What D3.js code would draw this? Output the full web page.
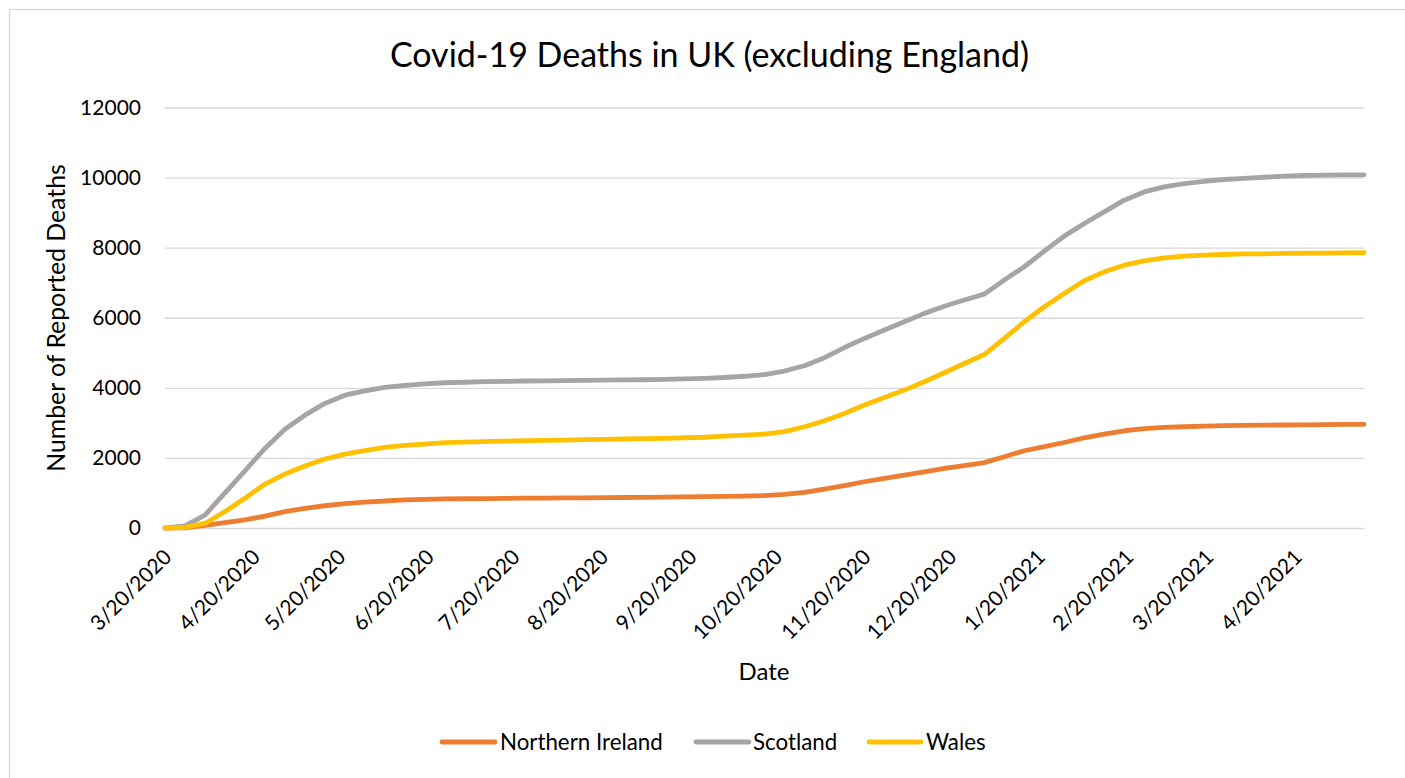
<!DOCTYPE html>
<html>
<head>
<meta charset="utf-8">
<script src="https://cdn.jsdelivr.net/npm/d3@7/dist/d3.min.js"></script>
<style>
  html, body { margin: 0; padding: 0; background: #ffffff; }
  svg { display: block; font-family: Lato, "Open Sans", sans-serif; }
</style>
</head>
<body>
<svg id="chart" width="1405" height="778"></svg>
<script>
// Weekly reporting dates (cumulative totals)
const dates = [
  "2020-03-20","2020-03-27","2020-04-03","2020-04-10","2020-04-17","2020-04-24","2020-05-01","2020-05-08",
  "2020-05-15","2020-05-22","2020-05-29","2020-06-05","2020-06-12","2020-06-19","2020-06-26","2020-07-03",
  "2020-07-10","2020-07-17","2020-07-24","2020-07-31","2020-08-07","2020-08-14","2020-08-21","2020-08-28",
  "2020-09-04","2020-09-11","2020-09-18","2020-09-25","2020-10-02","2020-10-09","2020-10-16","2020-10-23",
  "2020-10-30","2020-11-06","2020-11-13","2020-11-20","2020-11-27","2020-12-04","2020-12-11","2020-12-18",
  "2020-12-25","2021-01-01","2021-01-08","2021-01-15","2021-01-22","2021-01-29","2021-02-05","2021-02-12",
  "2021-02-19","2021-02-26","2021-03-05","2021-03-12","2021-03-19","2021-03-26","2021-04-02","2021-04-09",
  "2021-04-16","2021-04-23","2021-04-30","2021-05-07","2021-05-14"
];

const northernIreland = [
  0,5,75,150,230,340,465,560,635,695,740,770,800,815,830,
  835,840,845,850,855,858,862,866,870,875,880,888,895,900,910,
  925,960,1015,1110,1210,1320,1415,1510,1605,1700,1780,1865,2035,2205,2320,
  2440,2575,2680,2775,2835,2870,2890,2910,2920,2930,2935,2940,2945,2950,2955,2960
];

const scotland = [
  0,60,370,1000,1630,2270,2820,3220,3555,3790,3915,4010,4070,4115,4145,
  4160,4175,4185,4195,4200,4205,4210,4220,4225,4230,4240,4255,4270,4295,4330,
  4380,4480,4630,4860,5150,5410,5650,5885,6125,6330,6505,6675,7075,7455,7900,
  8330,8690,9020,9355,9590,9735,9830,9895,9945,9980,10010,10040,10060,10070,10075,10080
];

const wales = [
  0,20,130,470,850,1255,1540,1770,1970,2110,2205,2300,2360,2395,2435,
  2450,2465,2480,2490,2500,2510,2520,2530,2540,2550,2560,2575,2590,2620,2650,
  2680,2750,2890,3060,3270,3510,3725,3935,4175,4430,4695,4950,5410,5885,6315,
  6690,7055,7310,7500,7625,7710,7760,7785,7805,7820,7825,7835,7840,7845,7850,7855
];

const seriesNames = ["Northern Ireland", "Scotland", "Wales"];
const seriesColors = ["#ED7D31", "#A5A5A5", "#FFC000"];

const yTicks = [0, 2000, 4000, 6000, 8000, 10000, 12000];
const xTickLabels = [
  "3/20/2020","4/20/2020","5/20/2020","6/20/2020","7/20/2020","8/20/2020","9/20/2020",
  "10/20/2020","11/20/2020","12/20/2020","1/20/2021","2/20/2021","3/20/2021","4/20/2021"
];

const titleText = "Covid-19 Deaths in UK (excluding England)";
const xTitle = "Date";
const yTitle = "Number of Reported Deaths";

// ---- layout ----
const plot = { left: 165, right: 1364, top: 107.5, bottom: 528 };
const svg = d3.select("#chart");

const parse = d3.utcParse("%Y-%m-%d");
const parseTick = d3.utcParse("%m/%d/%Y");
const dateValues = dates.map(parse);

const x = d3.scaleUtc()
  .domain([dateValues[0], dateValues[dateValues.length - 1]])
  .range([plot.left, plot.right]);

const y = d3.scaleLinear()
  .domain([0, 12000])
  .range([plot.bottom, plot.top]);

// chart area border
svg.append("rect")
  .attr("x", 9.5).attr("y", 9.5)
  .attr("width", 1420).attr("height", 800)
  .attr("fill", "none")
  .attr("stroke", "#D9D9D9")
  .attr("stroke-width", 1.3);

// title
svg.append("text")
  .attr("x", 709.5).attr("y", 67)
  .attr("text-anchor", "middle")
  .attr("font-size", 34)
  .attr("fill", "#000")
  .text(titleText);

// horizontal gridlines + y labels via axis
const yAxis = d3.axisLeft(y)
  .tickValues(yTicks)
  .tickSize(-(plot.right - plot.left))
  .tickPadding(24)
  .tickFormat(d3.format("d"));

const gy = svg.append("g")
  .attr("transform", `translate(${plot.left},0)`)
  .call(yAxis);
gy.select(".domain").remove();
gy.selectAll(".tick line")
  .attr("stroke", "#D9D9D9")
  .attr("stroke-width", 1.4);
gy.selectAll(".tick text")
  .attr("font-size", 21)
  .attr("fill", "#000")
  .attr("font-family", "Lato, sans-serif");

// x axis labels (rotated)
const xAxis = d3.axisBottom(x)
  .tickValues(xTickLabels.map(parseTick))
  .tickSize(0)
  .tickFormat((d, i) => xTickLabels[i]);

const gx = svg.append("g")
  .attr("transform", `translate(0,${plot.bottom})`)
  .call(xAxis);
gx.select(".domain").remove();
gx.selectAll(".tick text")
  .attr("font-size", 21)
  .attr("fill", "#000")
  .attr("font-family", "Lato, sans-serif")
  .attr("text-anchor", "end")
  .attr("dy", "0.35em")
  .attr("transform", "translate(0,23) rotate(-45)");

// axis titles
svg.append("text")
  .attr("x", 764).attr("y", 680)
  .attr("text-anchor", "middle")
  .attr("font-size", 24)
  .attr("fill", "#000")
  .text(xTitle);

svg.append("text")
  .attr("transform", "translate(65,318) rotate(-90)")
  .attr("text-anchor", "middle")
  .attr("font-size", 24.8)
  .attr("fill", "#000")
  .text(yTitle);

// lines
const allSeries = [northernIreland, scotland, wales];
const line = d3.line()
  .x((d, i) => x(dateValues[i]))
  .y(d => y(d))
  .curve(d3.curveLinear);

svg.append("g")
  .selectAll("path")
  .data(allSeries)
  .join("path")
  .attr("d", d => line(d))
  .attr("fill", "none")
  .attr("stroke", (d, i) => seriesColors[i])
  .attr("stroke-width", 4.8)
  .attr("stroke-linejoin", "round")
  .attr("stroke-linecap", "round");

// legend
const legendItems = [
  { name: seriesNames[0], color: seriesColors[0], x0: 442, x1: 495, tx: 500 },
  { name: seriesNames[1], color: seriesColors[1], x0: 696, x1: 749, tx: 753 },
  { name: seriesNames[2], color: seriesColors[2], x0: 869, x1: 921, tx: 926 }
];
const legendY = 742;
const lg = svg.append("g");
legendItems.forEach(it => {
  lg.append("line")
    .attr("x1", it.x0).attr("x2", it.x1)
    .attr("y1", legendY).attr("y2", legendY)
    .attr("stroke", it.color)
    .attr("stroke-width", 4.8)
    .attr("stroke-linecap", "round");
  lg.append("text")
    .attr("x", it.tx).attr("y", legendY)
    .attr("dy", "0.35em")
    .attr("font-size", 22.3)
    .attr("fill", "#000")
    .text(it.name);
});
</script>
</body>
</html>
